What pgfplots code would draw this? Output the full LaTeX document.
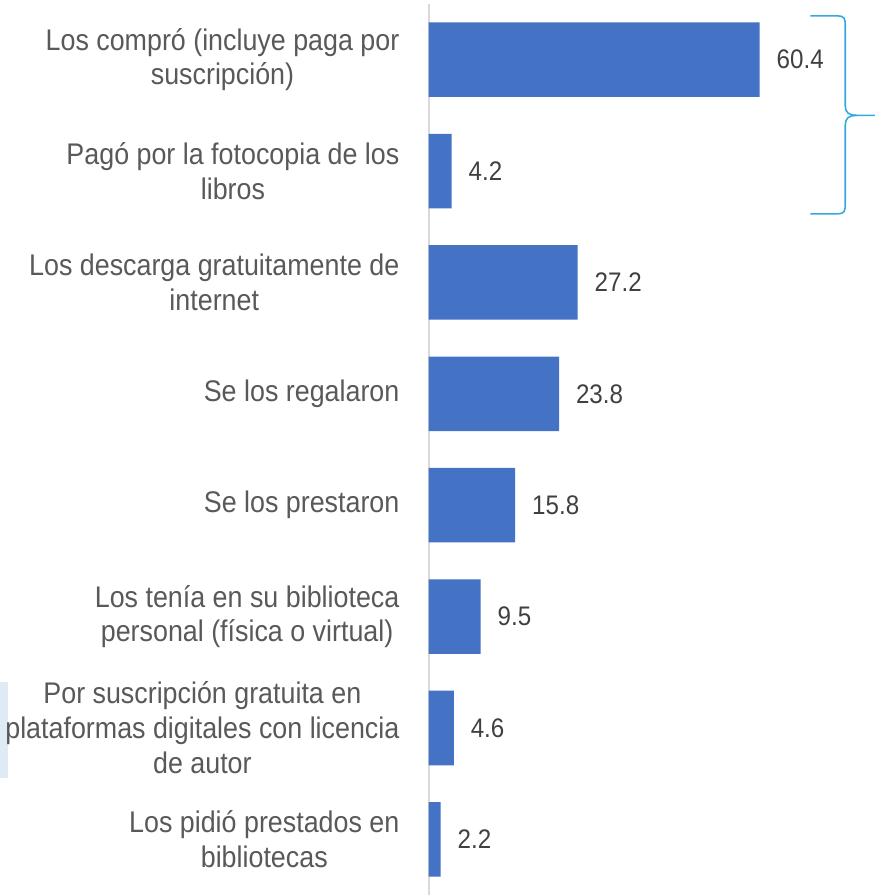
\documentclass[border=0pt]{standalone}
\usepackage{pgfplots}
\pgfplotsset{compat=1.18}
\usepackage{fontspec}
\setmainfont{Liberation Sans}[FakeStretch=0.9]
\definecolor{barblue}{HTML}{4472C4}
\definecolor{lbl}{HTML}{595959}
\definecolor{num}{HTML}{404040}
\definecolor{bracecol}{HTML}{33A9E0}
\definecolor{boxcol}{HTML}{DEEAF6}
\begin{document}
\begin{tikzpicture}
% picture frame in pixel units (0.5pt per px, y downwards)
\begin{scope}[x=0.5pt,y=-0.5pt]
\useasboundingbox (0,0) rectangle (879,896);
\fill[boxcol] (0,686) rectangle (8,782);
\draw[bracecol, line width=0.8pt] (815,16) -- (843,16) .. controls (849,16) and (850,19) .. (850,26) -- (850,106) .. controls (850,113) and (853,116) .. (862,116) -- (880,116);
\draw[bracecol, line width=0.8pt] (862,116) .. controls (853,116) and (850,119) .. (850,126) -- (850,205) .. controls (850,212) and (849,215) .. (843,215) -- (815,215);
\end{scope}
\begin{axis}[
  at={(215.5pt,-450pt)}, anchor=south west,
  scale only axis, width=220.5pt, height=448pt,
  xbar, bar width=37.5pt,
  xmin=0, xmax=80,
  ymin=-0.5, ymax=7.5, y dir=reverse,
  axis x line=none,
  axis y line*=left,
  y axis line style={draw=black!15, line width=1pt},
  major tick length=0pt,
  ytick={0,...,7},
  yticklabels={
    {Los compró (incluye paga por\\suscripción)},
    {Pagó por la fotocopia de los\\libros},
    {Los descarga gratuitamente de\\internet},
    {Se los regalaron},
    {Se los prestaron},
    {Los tenía en su biblioteca\\personal (física o virtual)},
    {Por suscripción gratuita en\\plataformas digitales con licencia\\de autor},
    {Los pidió prestados en\\bibliotecas}},
  yticklabel style={font=\fontsize{15}{17.5}\selectfont, text=lbl, align=center, anchor=east, inner sep=0pt, xshift=-14.5pt},
  nodes near coords,
  nodes near coords style={font=\fontsize{13.5}{16}\selectfont, text=num, anchor=west, xshift=5pt, /pgf/number format/.cd, fixed, fixed zerofill, precision=1, assume math mode=true},
  clip=false
]
\addplot[fill=barblue, draw=none] coordinates {(60.4,0) (4.2,1) (27.2,2) (23.8,3) (15.8,4) (9.5,5) (4.6,6) (2.2,7)};
\end{axis}
\end{tikzpicture}
\end{document}
